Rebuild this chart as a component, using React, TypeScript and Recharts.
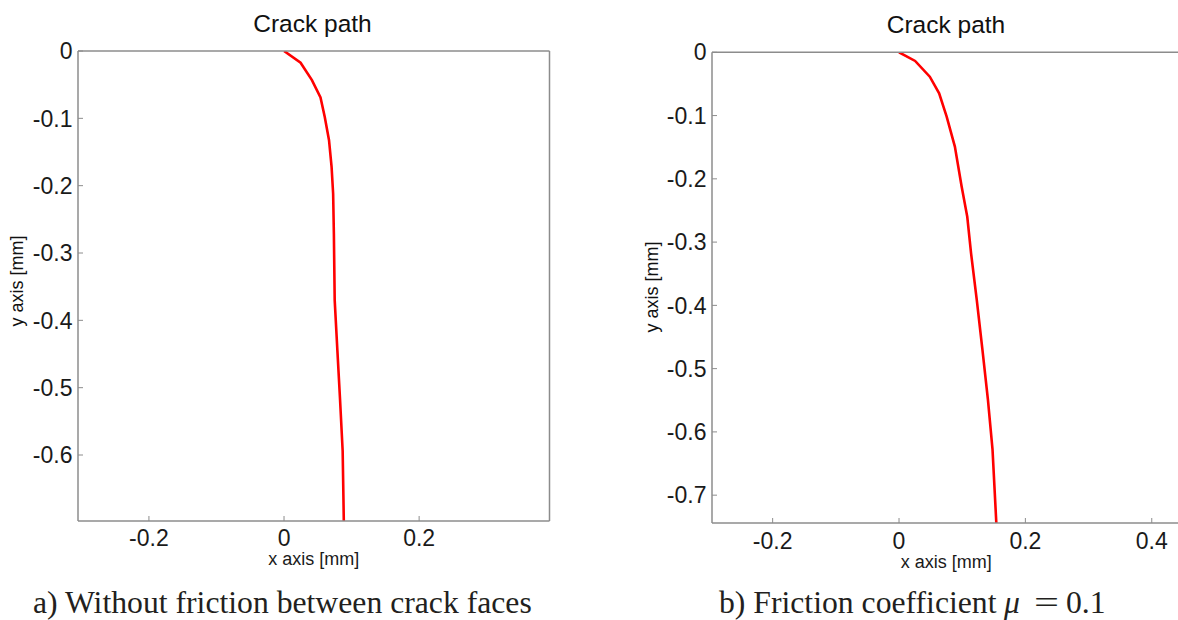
import React from 'react';
import { LineChart, Line, XAxis, YAxis } from 'recharts';

// crack path a) no friction
const pathAX = [0, 0.0245, 0.0413, 0.054, 0.0603, 0.0666, 0.0704, 0.0727, 0.0738, 0.075, 0.079, 0.083, 0.0868, 0.0885];
const pathAY = [0, -0.0174, -0.0432, -0.069, -0.098, -0.1324, -0.172, -0.212, -0.2713, -0.37, -0.445, -0.519, -0.594, -0.698];

// crack path b) mu = 0.1
const pathBX = [0, 0.0255, 0.0487, 0.0635, 0.0754, 0.0884, 0.0991, 0.108, 0.114, 0.123, 0.132, 0.1407, 0.148, 0.154];
const pathBY = [0, -0.0137, -0.0385, -0.0648, -0.1017, -0.149, -0.212, -0.26, -0.3175, -0.391, -0.47, -0.549, -0.628, -0.744];

const xTicksA = [-0.2, 0, 0.2];
const yTicksA = [0, -0.1, -0.2, -0.3, -0.4, -0.5, -0.6];
const xTicksB = [-0.2, 0, 0.2, 0.4];
const yTicksB = [0, -0.1, -0.2, -0.3, -0.4, -0.5, -0.6, -0.7];

const xDomainA: [number, number] = [-0.305, 0.393];
const yDomainA: [number, number] = [-0.698, 0];
const xDomainB: [number, number] = [-0.296, 0.4455];
const yDomainB: [number, number] = [-0.744, 0];

const FRAME = '#8c8c8c';
const SANS = '"Liberation Sans", Arial, Helvetica, sans-serif';
const SERIF = '"Liberation Serif", "Times New Roman", serif';

const toPoints = (xs: number[], ys: number[]) => xs.map((x, i) => ({ x, y: ys[i] }));

interface PanelProps {
  data: { x: number; y: number }[];
  xDomain: [number, number];
  yDomain: [number, number];
  xTicks: number[];
  yTicks: number[];
  left: number;
  width: number;
  yAxisWidth: number;
  xAxisHeight: number;
  xTickMargin: number;
  margin: { top: number; right: number; bottom: number; left: number };
}

const fmt = (v: number) => String(v);

const Panel: React.FC<PanelProps> = ({ data, xDomain, yDomain, xTicks, yTicks, left, width, yAxisWidth, xAxisHeight, xTickMargin, margin }) => (
  <div style={{ position: 'absolute', left, top: 0 }}>
    <LineChart width={width} height={620} data={data} margin={margin}>
      <XAxis
        dataKey="x"
        type="number"
        domain={xDomain}
        ticks={xTicks}
        interval={0}
        allowDataOverflow
        height={xAxisHeight}
        tickSize={-5}
        tickMargin={xTickMargin}
        tickFormatter={fmt}
        axisLine={{ stroke: FRAME, strokeWidth: 1.5 }}
        tickLine={{ stroke: FRAME, strokeWidth: 1 }}
        tick={{ fill: '#1a1a1a', fontSize: 23, fontFamily: SANS }}
        label={{ value: 'x axis [mm]', position: 'insideBottom', offset: 0, fill: '#1a1a1a', fontSize: 18, fontFamily: SANS }}
      />
      <XAxis
        xAxisId="top"
        orientation="top"
        type="number"
        domain={xDomain}
        ticks={xTicks}
        interval={0}
        allowDataOverflow
        height={1}
        tickSize={-5}
        tick={false}
        axisLine={{ stroke: FRAME, strokeWidth: 1.5 }}
        tickLine={{ stroke: FRAME, strokeWidth: 1 }}
      />
      <YAxis
        dataKey="y"
        type="number"
        domain={yDomain}
        ticks={yTicks}
        interval={0}
        allowDataOverflow
        width={yAxisWidth}
        tickSize={-5}
        tickMargin={10.5}
        tickFormatter={fmt}
        axisLine={{ stroke: FRAME, strokeWidth: 1.5 }}
        tickLine={{ stroke: FRAME, strokeWidth: 1 }}
        tick={{ fill: '#1a1a1a', fontSize: 23, fontFamily: SANS }}
      />
      <YAxis
        yAxisId="right"
        orientation="right"
        type="number"
        domain={yDomain}
        ticks={yTicks}
        interval={0}
        allowDataOverflow
        width={1}
        tickSize={-5}
        tick={false}
        axisLine={{ stroke: FRAME, strokeWidth: 1.5 }}
        tickLine={{ stroke: FRAME, strokeWidth: 1 }}
      />
      <Line type="linear" dataKey="y" stroke="#ff0000" strokeWidth={2.6} dot={false} isAnimationActive={false} />
    </LineChart>
  </div>
);

const App: React.FC = () => (
  <div style={{ position: 'absolute', left: 0, top: 0, width: 1178, height: 620, overflow: 'hidden', background: '#fff' }}>
    <Panel
      data={toPoints(pathAX, pathAY)}
      xDomain={xDomainA}
      yDomain={yDomainA}
      xTicks={xTicksA}
      yTicks={yTicksA}
      left={0}
      width={590}
      yAxisWidth={78}
      xAxisHeight={44}
      xTickMargin={14}
      margin={{ top: 50, right: 39.5, bottom: 55, left: 0 }}
    />
    <Panel
      data={toPoints(pathBX, pathBY)}
      xDomain={xDomainB}
      yDomain={yDomainB}
      xTicks={xTicksB}
      yTicks={yTicksB}
      left={590}
      width={593}
      yAxisWidth={122}
      xAxisHeight={45}
      xTickMargin={15}
      margin={{ top: 51.3, right: 1.5, bottom: 52, left: 0 }}
    />
    <svg width={1178} height={620} style={{ position: 'absolute', left: 0, top: 0, pointerEvents: 'none' }}>
      <g fontFamily={SANS} fill="#111">
        <text x={312.5} y={31.7} fontSize={24.5} textAnchor="middle">Crack path</text>
        <text x={946} y={33.3} fontSize={24.5} textAnchor="middle">Crack path</text>
        <text x={17} y={281} fontSize={18} textAnchor="middle" dominantBaseline="central" transform="rotate(-90 17 281)">y axis [mm]</text>
        <text x={652} y={287} fontSize={18} textAnchor="middle" dominantBaseline="central" transform="rotate(-90 652 287)">y axis [mm]</text>
      </g>
      <g fontFamily={SERIF} fill="#231f20" fontSize={31.7}>
        <text x={33} y={613}>a) Without friction between crack faces</text>
        <text x={719} y={613}>b) Friction coefficient</text>
        <text x={1004} y={613} fontStyle="italic">μ</text>
        <text x={1034} y={613} textLength={25} lengthAdjust="spacingAndGlyphs">=</text>
        <text x={1066} y={613}>0.1</text>
      </g>
    </svg>
  </div>
);

export default App;
